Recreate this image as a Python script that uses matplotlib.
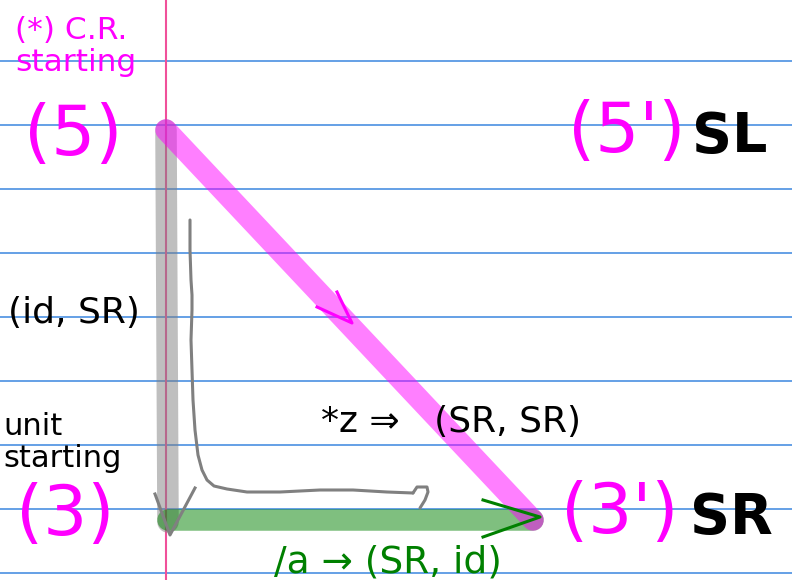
import matplotlib
matplotlib.use("Agg")
import matplotlib.pyplot as plt

# ---- data (diagram nodes, in pixel-like coordinates of the sheet) ----
rule_ys = [61, 125, 189, 253, 317, 381, 445, 509, 573]
margin_x = 166

node_names = ["5", "3", "3'"]
node_x = [166, 168, 533]
node_y = [130, 522, 520]

# gray thin curved arrow (hand drawn)
curve_x = [190, 190, 191, 192, 192, 191, 192, 193, 195, 198, 202, 207, 214, 227, 247, 280, 320, 353, 387, 413]
curve_y = [220, 250, 280, 295, 310, 340, 370, 400, 430, 455, 470, 480, 486, 489, 492, 492, 490, 490, 492, 493]
hook_x = [413, 417, 427, 428, 425, 420]
hook_y = [493, 487, 487, 492, 500, 508]

# arrowheads (hand drawn chevrons)
gray_head_x = [155, 170, 195]
gray_head_y = [494, 535, 488]
green_head_x = [483, 540, 483]
green_head_y = [500, 517, 537]
pink_head_x = [337, 352, 317]
pink_head_y = [292, 323, 307]

# ---- figure ----
fig = plt.figure(figsize=(7.92, 5.80), dpi=100)
ax = fig.add_axes([0, 0, 1, 1])
ax.set_xlim(0, 792)
ax.set_ylim(580, 0)
ax.axis("off")

for y in rule_ys:
    ax.axhline(y, color="#4a90e2", lw=1.2, zorder=1)
ax.axvline(margin_x, color="#f0509a", lw=1.5, zorder=1)

# thick strokes
ax.plot([node_x[0], node_x[1]], [node_y[0], node_y[1]], color="gray", alpha=0.5,
        lw=15.5, solid_capstyle="round", zorder=2)
ax.plot([node_x[1], node_x[2]], [node_y[2], node_y[2]], color="green", alpha=0.5,
        lw=15.5, solid_capstyle="round", zorder=2)
ax.plot([node_x[0], node_x[2]], [node_y[0], node_y[2]], color="magenta", alpha=0.5,
        lw=15.5, solid_capstyle="round", zorder=2)

# thin strokes
ax.plot(curve_x, curve_y, color="gray", lw=2.2, solid_capstyle="round",
        solid_joinstyle="round", zorder=3)
ax.plot(hook_x, hook_y, color="gray", lw=2.2, solid_capstyle="round",
        solid_joinstyle="round", zorder=3)
ax.plot(gray_head_x, gray_head_y, color="gray", lw=2.2, zorder=3)
ax.plot(green_head_x, green_head_y, color="green", lw=2.2, zorder=3)
ax.plot(pink_head_x, pink_head_y, color="magenta", lw=2.2, zorder=3)

# ---- text ----
fam = "DejaVu Sans"
ax.text(15, 71, "(*) C.R.\nstarting", color="magenta", fontsize=22.5, family=fam,
        ha="left", va="baseline", linespacing=1.12, zorder=4)
ax.text(24, 155, "(5)", color="magenta", fontsize=50, family=fam, ha="left", va="baseline", zorder=4)
ax.text(568, 152, "(5')", color="magenta", fontsize=50, family=fam, ha="left", va="baseline", zorder=4)
ax.text(692, 152, "SL", color="black", fontsize=40, family=fam, fontweight="bold",
        ha="left", va="baseline", zorder=4)
ax.text(16, 535, "(3)", color="magenta", fontsize=50, family=fam, ha="left", va="baseline", zorder=4)
ax.text(561, 533, "(3')", color="magenta", fontsize=50, family=fam, ha="left", va="baseline", zorder=4)
ax.text(690, 533, "SR", color="black", fontsize=40, family=fam, fontweight="bold",
        ha="left", va="baseline", zorder=4)
ax.text(8, 323, "(id, SR)", color="black", fontsize=26, family=fam, ha="left", va="baseline", zorder=4)
ax.text(3, 467, "unit\nstarting", color="black", fontsize=22, family=fam,
        ha="left", va="baseline", linespacing=1.12, zorder=4)
ax.text(321, 432, "*z \u21d2   (SR, SR)", color="black", fontsize=26, family=fam,
        ha="left", va="baseline", zorder=4)
ax.text(274, 572, "/a \u2192 (SR, id)", color="green", fontsize=27, family=fam,
        ha="left", va="baseline", zorder=4)

fig.savefig("out.png", dpi=100)
